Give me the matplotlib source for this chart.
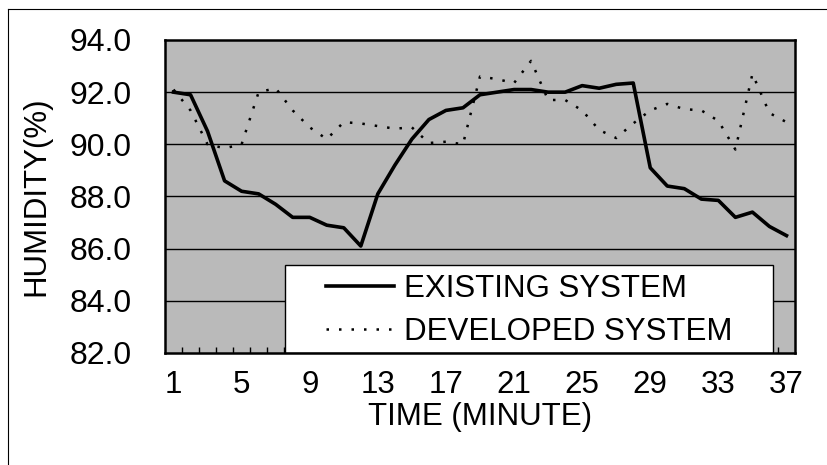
import matplotlib
matplotlib.use('Agg')
import matplotlib.pyplot as plt
from matplotlib.patches import Rectangle
from matplotlib.lines import Line2D

plt.rcParams['font.family'] = ['Liberation Sans', 'DejaVu Sans']

minutes = list(range(1, 38))
existing = [92.0, 91.9, 90.5, 88.6, 88.2, 88.1, 87.7, 87.2, 87.2, 86.9,
            86.8, 86.1, 88.1, 89.2, 90.2, 90.95, 91.3, 91.4, 91.9, 92.0,
            92.1, 92.1, 92.0, 92.0, 92.25, 92.15, 92.3, 92.35, 89.1, 88.4,
            88.3, 87.9, 87.85, 87.2, 87.4, 86.85, 86.5]
developed = [92.1, 91.3, 90.0, 89.85, 90.0, 92.0, 92.15, 91.3, 90.65, 90.2,
             90.85, 90.8, 90.7, 90.6, 90.65, 90.05, 90.1, 90.0, 92.6, 92.5,
             92.35, 93.2, 91.7, 91.7, 91.3, 90.55, 90.24, 90.8, 91.3, 91.55,
             91.35, 91.3, 90.9, 89.8, 92.7, 91.2, 90.85]
x_labels = [1, 5, 9, 13, 17, 21, 25, 29, 33, 37]
y_ticks = [82.0, 84.0, 86.0, 88.0, 90.0, 92.0, 94.0]

fs = 22.5

fig = plt.figure(figsize=(8.27, 4.65), dpi=100)
ax = fig.add_axes([0.1995, 0.2409, 0.7618, 0.6731])
ax.set_facecolor('#bababa')

ax.plot(minutes, existing, color='black', lw=2.6, label='EXISTING SYSTEM',
        solid_joinstyle='round', zorder=3)
ax.plot(minutes, developed, color='black', lw=1.8, linestyle=(0, (1, 4)),
        label='DEVELOPED SYSTEM', zorder=3)

ax.set_xlim(0.5, 37.5)
ax.set_ylim(82, 94)
ax.set_yticks(y_ticks)
ax.set_yticklabels(['%.1f' % v for v in y_ticks])
ax.set_xticks(x_labels)
ax.set_xticks([m + 0.5 for m in minutes[:-1]], minor=True)
ax.tick_params(axis='y', length=0, pad=24, labelsize=fs + 0.5)
ax.tick_params(axis='x', which='major', length=0, pad=12, labelsize=fs)
ax.tick_params(axis='x', which='minor', direction='in', length=4, width=1)

for v in y_ticks[1:-1]:
    ax.axhline(v, color='black', lw=1.0, zorder=1)

for s in ax.spines.values():
    s.set_linewidth(1.8)
    s.set_zorder(6)

ax.set_xlabel('TIME (MINUTE)', fontsize=fs, labelpad=2)
ax.set_ylabel('HUMIDITY(%)', fontsize=fs, labelpad=13)

# legend box sitting on the bottom axis
box = Rectangle((0.19, 0.0), 0.775, 0.281, transform=ax.transAxes,
                facecolor='white', edgecolor='black', lw=1, zorder=4)
ax.add_patch(box)
leg = ax.legend(loc='center', bbox_to_anchor=(0.19 + 0.775 / 2, 0.135),
                frameon=False, fontsize=fs, handlelength=2.2,
                handletextpad=0.3, borderpad=0, borderaxespad=0,
                labelspacing=0.42)
leg.set_zorder(5)

fig.add_artist(Line2D([0.01, 0.01], [0.0, 0.981], transform=fig.transFigure,
                      color='black', lw=0.8))
fig.add_artist(Line2D([0.01, 1.0], [0.981, 0.981], transform=fig.transFigure,
                      color='black', lw=0.8))

fig.savefig('out.png', dpi=100)
